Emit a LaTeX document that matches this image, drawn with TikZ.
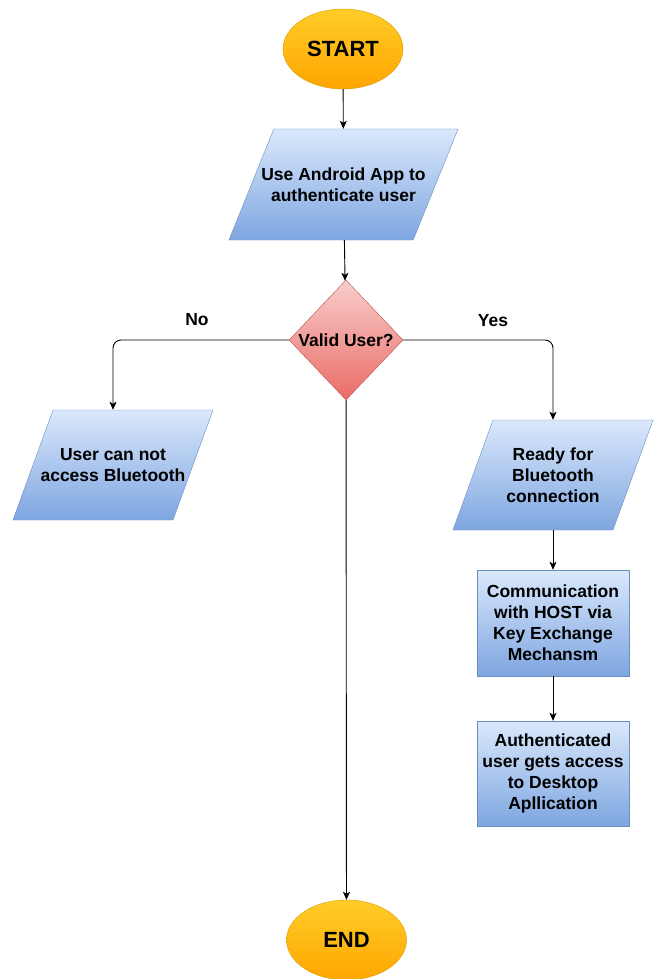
\documentclass[tikz,border=0pt]{standalone}
\usepackage{fontspec}
\setmainfont{Liberation Sans}
\usetikzlibrary{shapes.geometric, arrows.meta}

\definecolor{termtop}{HTML}{FFCD28}
\definecolor{termbot}{HTML}{FFA500}
\definecolor{termline}{HTML}{D79B00}
\definecolor{bluetop}{HTML}{DAE8FC}
\definecolor{bluebot}{HTML}{7EA6E0}
\definecolor{blueline}{HTML}{6C8EBF}
\definecolor{redtop}{HTML}{F8CECC}
\definecolor{redbot}{HTML}{EA6B66}
\definecolor{redline}{HTML}{B85450}

\tikzset{
  txt/.style={font=\bfseries\fontsize{17.5}{21}\selectfont, align=center},
  terminal/.style={ellipse, draw=termline, top color=termtop, bottom color=termbot,
    minimum width=120pt, minimum height=80pt, inner sep=0pt,
    font=\bfseries\fontsize{22}{26}\selectfont},
  ioblock/.style={trapezium, trapezium left angle=70, trapezium right angle=110,
    draw=blueline, top color=bluetop, bottom color=bluebot,
    inner xsep=60pt, inner ysep=55pt},
  procblock/.style={rectangle, draw=blueline, top color=bluetop, bottom color=bluebot,
    minimum width=152pt, minimum height=106pt, inner sep=2pt, txt},
  decision/.style={diamond, draw=redline, top color=redtop, bottom color=redbot,
    minimum width=114pt, minimum height=120pt, inner sep=0pt},
  flow/.style={draw=black, line width=0.9pt, -{Stealth[length=8pt,width=7pt,inset=2pt]}},
}

\begin{document}
\begin{tikzpicture}[x=1pt, y=-1pt]
    \useasboundingbox (0,0) rectangle (657,979);

    % terminals
    \node[terminal] (start) at (343,49) {START};
    \node[terminal] (finish) at (346.5,940) {END};

    % main column
    \node[ioblock, trapezium left angle=68, trapezium right angle=112,
        inner xsep=69.7pt, inner ysep=55.5pt,
        label={[txt]center:{Use Android App to\\authenticate user}}] (useapp) at (343.5,184.5) {};
    \node[decision, label={[txt]center:Valid User?}] (valid) at (346,340) {};

    % no branch
    \node[ioblock, label={[txt]center:{User can not\\access Bluetooth}}] (nobt) at (113,465) {};
    \node[txt] (nolbl) at (197,320) {No};

    % yes branch
    \node[ioblock, label={[txt]center:{Ready for\\Bluetooth\\connection}}] (ready) at (553,475) {};
    \node[txt] (yeslbl) at (493,321) {Yes};
    \node[procblock] (comm) at (553,623) {Communication\\with HOST via\\Key Exchange\\Mechansm};
    \node[procblock, minimum height=105pt] (access) at (553,773.5) {Authenticated\\user gets access\\to Desktop\\Apllication};

    % connectors
    \draw[flow] (start) -- (useapp);
    \draw[flow] (useapp) -- (valid);
    \draw[flow, rounded corners=8pt] (valid.west) -| (nobt.north);
    \draw[flow, rounded corners=8pt] (valid.east) -| (ready.north);
    \draw[flow] (ready) -- (comm);
    \draw[flow] (comm) -- (access);
    \draw[flow] (valid) -- (finish);
\end{tikzpicture}
\end{document}
